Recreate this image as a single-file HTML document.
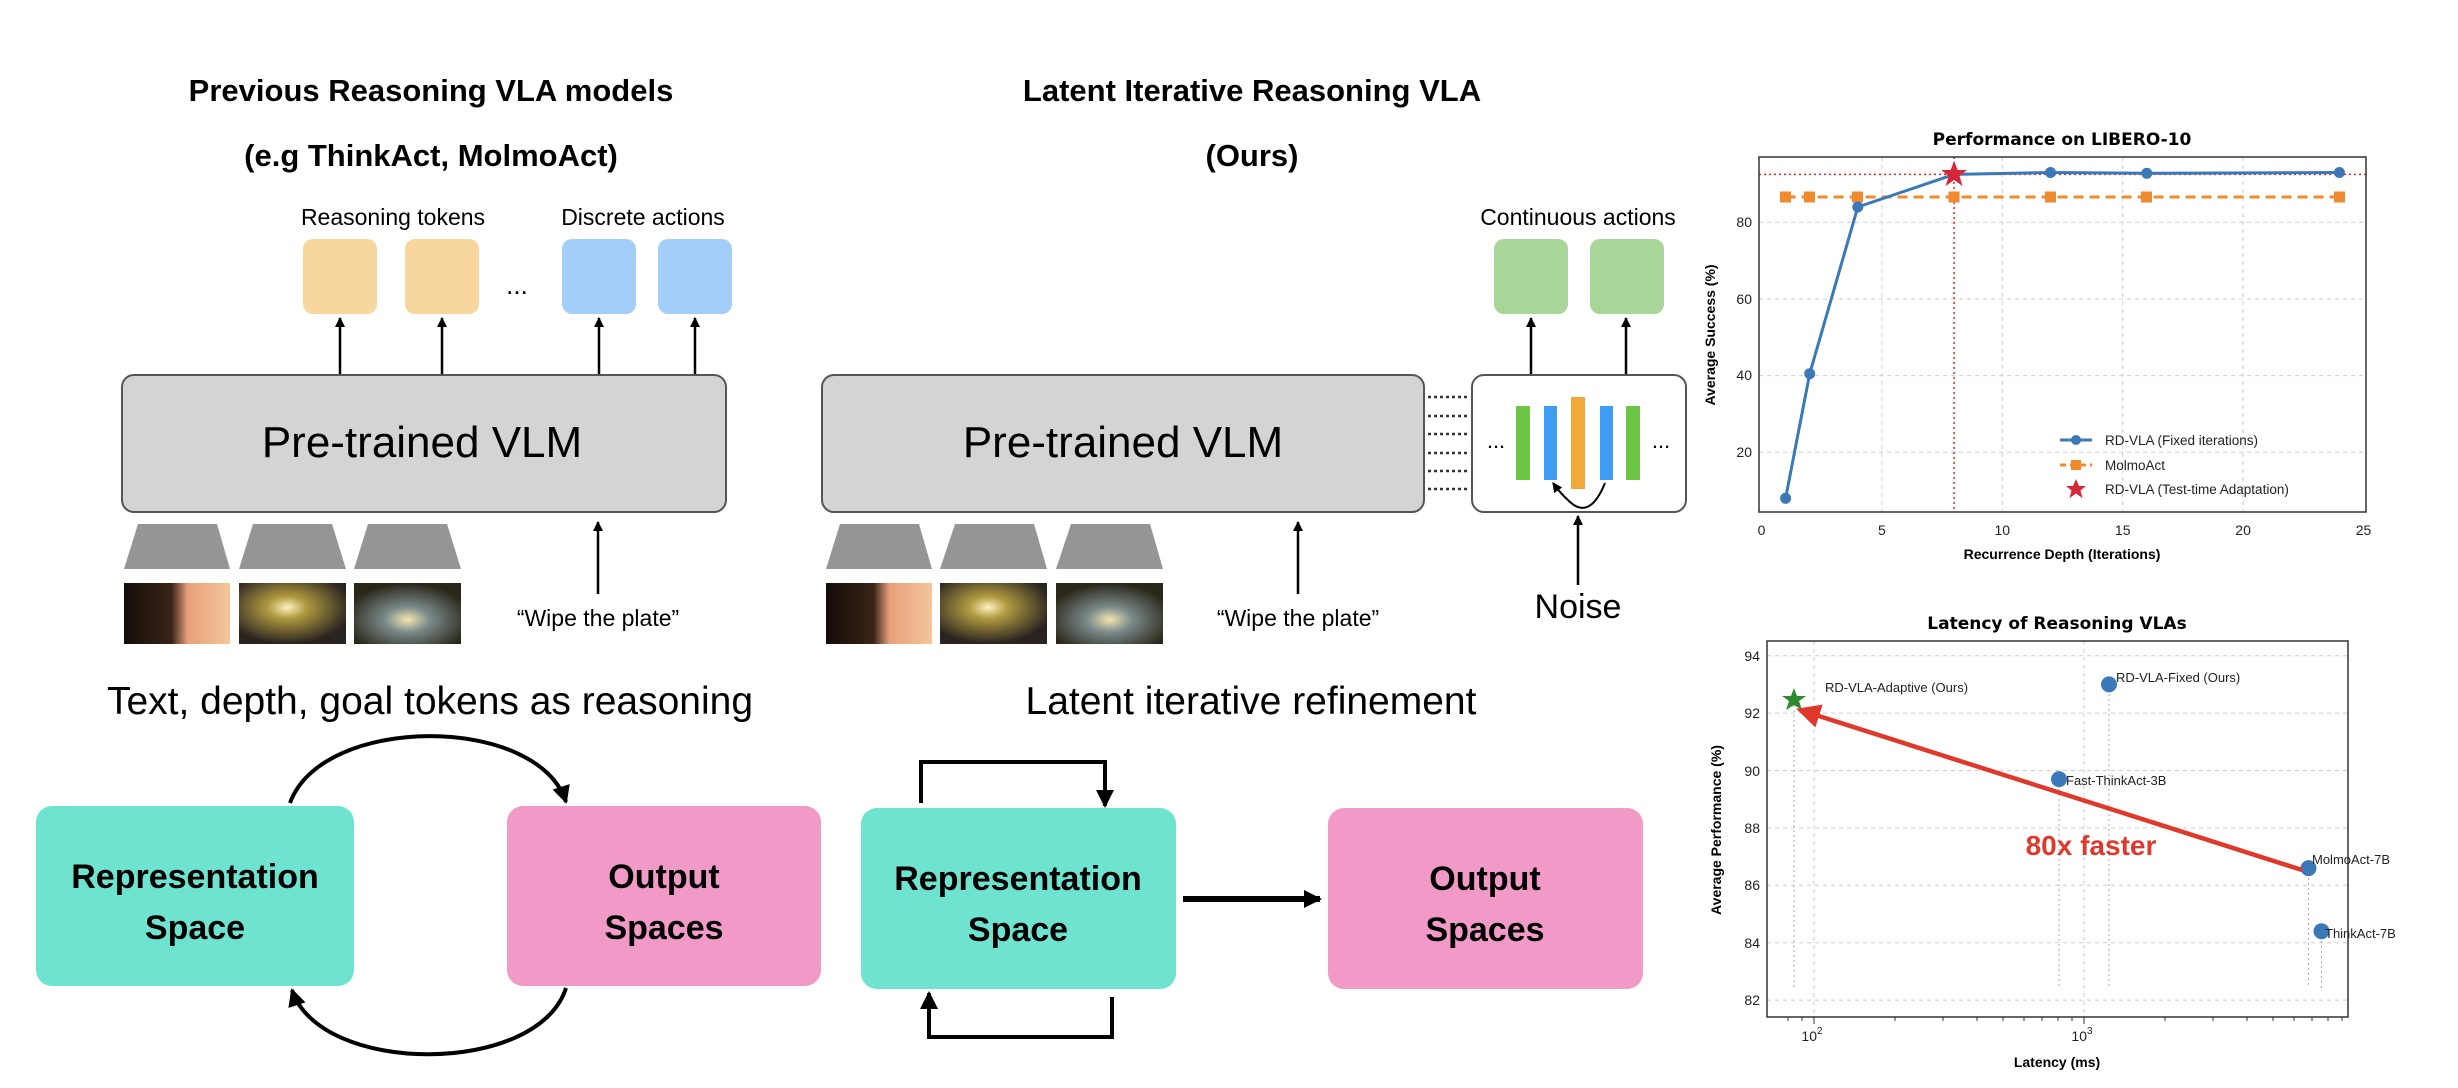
<!DOCTYPE html>
<html><head><meta charset="utf-8"><style>
html,body{margin:0;padding:0;background:#fff;}
svg{display:block;}
text{font-family:"Liberation Sans",Arial,sans-serif;}
.dj{font-family:"DejaVu Sans","Liberation Sans",sans-serif;}
</style></head><body>
<svg width="2458" height="1088" viewBox="0 0 2458 1088" xmlns="http://www.w3.org/2000/svg">
<defs>
<marker id="ah" markerWidth="10" markerHeight="10" refX="9" refY="5" orient="auto" markerUnits="userSpaceOnUse"><path d="M0,0 L10,5 L0,10 z" fill="#000"/></marker>
<marker id="ah2" markerWidth="18" markerHeight="18" refX="16" refY="9" orient="auto" markerUnits="userSpaceOnUse"><path d="M0,0 L18,9 L0,18 z" fill="#000"/></marker>
<marker id="ahr" markerWidth="24" markerHeight="24" refX="20" refY="12" orient="auto" markerUnits="userSpaceOnUse"><path d="M0,0 L24,12 L0,24 z" fill="#e0392b"/></marker>
<linearGradient id="p1" x1="0" y1="0" x2="1" y2="0"><stop offset="0" stop-color="#140c08"/><stop offset="0.45" stop-color="#3a2418"/><stop offset="0.6" stop-color="#e8a07a"/><stop offset="1" stop-color="#f5c59a"/></linearGradient>
<radialGradient id="p2" cx="0.45" cy="0.4" r="0.6"><stop offset="0" stop-color="#fff2c0"/><stop offset="0.3" stop-color="#b09a40"/><stop offset="1" stop-color="#2a2420"/></radialGradient>
<radialGradient id="p3" cx="0.5" cy="0.6" r="0.6"><stop offset="0" stop-color="#f3e6b0"/><stop offset="0.35" stop-color="#7a8a8a"/><stop offset="1" stop-color="#2a2618"/></radialGradient>
</defs>

<text x="431" y="101" font-size="31" font-weight="bold" text-anchor="middle">Previous Reasoning VLA models</text>
<text x="431" y="166" font-size="31" font-weight="bold" text-anchor="middle">(e.g ThinkAct, MolmoAct)</text>
<text x="1252" y="101" font-size="31" font-weight="bold" text-anchor="middle">Latent Iterative Reasoning VLA</text>
<text x="1252" y="166" font-size="31" font-weight="bold" text-anchor="middle">(Ours)</text>

<text x="393" y="225" font-size="23" text-anchor="middle">Reasoning tokens</text>
<text x="643" y="225" font-size="23" text-anchor="middle">Discrete actions</text>
<text x="1578" y="225" font-size="23" text-anchor="middle">Continuous actions</text>

<rect x="303" y="239" width="74" height="75" rx="10" fill="#f7d79e"/>
<rect x="405" y="239" width="74" height="75" rx="10" fill="#f7d79e"/>
<text x="517" y="294" font-size="26" text-anchor="middle">...</text>
<rect x="562" y="239" width="74" height="75" rx="10" fill="#a3cefa"/>
<rect x="658" y="239" width="74" height="75" rx="10" fill="#a3cefa"/>
<rect x="1494" y="239" width="74" height="75" rx="10" fill="#a8d598"/>
<rect x="1590" y="239" width="74" height="75" rx="10" fill="#a8d598"/>

<g stroke="#000" stroke-width="2.5" fill="none" marker-end="url(#ah)">
<line x1="340" y1="375" x2="340" y2="318"/>
<line x1="442" y1="375" x2="442" y2="318"/>
<line x1="599" y1="375" x2="599" y2="318"/>
<line x1="695" y1="375" x2="695" y2="318"/>
<line x1="1531" y1="375" x2="1531" y2="318"/>
<line x1="1626" y1="375" x2="1626" y2="318"/>
<line x1="598" y1="594" x2="598" y2="522"/>
<line x1="1298" y1="594" x2="1298" y2="522"/>
<line x1="1578" y1="585" x2="1578" y2="516"/>
</g>

<rect x="122" y="375" width="604" height="137" rx="12" fill="#d4d4d4" stroke="#555" stroke-width="2"/>
<text x="422" y="457" font-size="44" text-anchor="middle">Pre-trained VLM</text>
<rect x="822" y="375" width="602" height="137" rx="12" fill="#d4d4d4" stroke="#555" stroke-width="2"/>
<text x="1123" y="457" font-size="44" text-anchor="middle">Pre-trained VLM</text>

<g stroke="#333" stroke-width="2.5" stroke-dasharray="3,3">
<line x1="1428" y1="397" x2="1468" y2="397"/>
<line x1="1428" y1="416" x2="1468" y2="416"/>
<line x1="1428" y1="434" x2="1468" y2="434"/>
<line x1="1428" y1="453" x2="1468" y2="453"/>
<line x1="1428" y1="471" x2="1468" y2="471"/>
<line x1="1428" y1="489" x2="1468" y2="489"/>
</g>
<rect x="1472" y="375" width="214" height="137" rx="12" fill="#fff" stroke="#555" stroke-width="2"/>
<rect x="1516" y="406" width="14" height="74" fill="#6cc644"/>
<rect x="1544" y="406" width="13" height="74" fill="#3f9cf4"/>
<rect x="1571" y="397" width="14" height="92" fill="#f3a93a"/>
<rect x="1600" y="406" width="13" height="74" fill="#3f9cf4"/>
<rect x="1626" y="406" width="14" height="74" fill="#6cc644"/>
<text x="1496" y="448" font-size="22" text-anchor="middle">...</text>
<text x="1661" y="448" font-size="22" text-anchor="middle">...</text>
<path d="M1605,483 Q1590,520 1570,502 Q1560,493 1553,483" fill="none" stroke="#000" stroke-width="2" marker-end="url(#ah)"/>

<g fill="#959595">
<polygon points="138,524 217,524 230,569 124,569"/>
<polygon points="253,524 332,524 346,569 239,569"/>
<polygon points="368,524 447,524 461,569 354,569"/>
<polygon points="840,524 919,524 932,569 826,569"/>
<polygon points="955,524 1034,524 1047,569 940,569"/>
<polygon points="1071,524 1150,524 1163,569 1056,569"/>
</g>
<rect x="124" y="583" width="106" height="61" fill="url(#p1)"/>
<rect x="239" y="583" width="107" height="61" fill="url(#p2)"/>
<rect x="354" y="583" width="107" height="61" fill="url(#p3)"/>
<rect x="826" y="583" width="106" height="61" fill="url(#p1)"/>
<rect x="940" y="583" width="107" height="61" fill="url(#p2)"/>
<rect x="1056" y="583" width="107" height="61" fill="url(#p3)"/>

<text x="598" y="626" font-size="23" text-anchor="middle">“Wipe the plate”</text>
<text x="1298" y="626" font-size="23" text-anchor="middle">“Wipe the plate”</text>
<text x="1578" y="618" font-size="34" text-anchor="middle">Noise</text>

<text x="430" y="714" font-size="39" text-anchor="middle">Text, depth, goal tokens as reasoning</text>
<text x="1251" y="714" font-size="39" text-anchor="middle">Latent iterative refinement</text>

<rect x="36" y="806" width="318" height="180" rx="16" fill="#6de3d0"/>
<rect x="507" y="806" width="314" height="180" rx="16" fill="#f29ac7"/>
<rect x="861" y="808" width="315" height="181" rx="16" fill="#6de3d0"/>
<rect x="1328" y="808" width="315" height="181" rx="16" fill="#f29ac7"/>
<g font-size="34" font-weight="bold" text-anchor="middle">
<text x="195" y="888">Representation</text><text x="195" y="939">Space</text>
<text x="664" y="888">Output</text><text x="664" y="939">Spaces</text>
<text x="1018" y="890">Representation</text><text x="1018" y="941">Space</text>
<text x="1485" y="890">Output</text><text x="1485" y="941">Spaces</text>
</g>

<g stroke="#000" stroke-width="4" fill="none">
<path d="M290,803 C322,714 538,714 566,802" marker-end="url(#ah2)"/>
<path d="M566,988 C538,1076 320,1076 292,990" marker-end="url(#ah2)"/>
<polyline points="921,803 921,762 1105,762 1105,806" marker-end="url(#ah2)"/>
<polyline points="1112,997 1112,1037 929,1037 929,993" marker-end="url(#ah2)"/>
<line x1="1183" y1="899" x2="1320" y2="899" stroke-width="6" marker-end="url(#ah2)"/>
</g>

<g class="dj">
<text x="2062" y="145" font-size="17" font-weight="bold" text-anchor="middle" class="dj">Performance on LIBERO-10</text>
<g stroke="#ccc" stroke-width="1" stroke-dasharray="4,4">
<line x1="1881.9" y1="157" x2="1881.9" y2="512"/><line x1="2002.3" y1="157" x2="2002.3" y2="512"/>
<line x1="2122.7" y1="157" x2="2122.7" y2="512"/><line x1="2243.1" y1="157" x2="2243.1" y2="512"/>
<line x1="1759" y1="452.3" x2="2366" y2="452.3"/><line x1="1759" y1="375.6" x2="2366" y2="375.6"/>
<line x1="1759" y1="299" x2="2366" y2="299"/><line x1="1759" y1="222.3" x2="2366" y2="222.3"/>
</g>
<line x1="1759" y1="174.4" x2="2366" y2="174.4" stroke="#d62728" stroke-width="1.5" stroke-dasharray="2,3"/>
<line x1="1954.1" y1="157" x2="1954.1" y2="512" stroke="#d62728" stroke-width="1.5" stroke-dasharray="2,3"/>
<polyline points="1785.6,197 1809.7,197 1857.8,197 1954.1,197 2050.5,197 2146.8,197 2339.4,197" fill="none" stroke="#f08a2c" stroke-width="3" stroke-dasharray="10,6"/>
<g fill="#f08a2c">
<rect x="1780" y="191.5" width="11" height="11"/><rect x="1804" y="191.5" width="11" height="11"/><rect x="1852" y="191.5" width="11" height="11"/><rect x="1948.5" y="191.5" width="11" height="11"/><rect x="2045" y="191.5" width="11" height="11"/><rect x="2141" y="191.5" width="11" height="11"/><rect x="2334" y="191.5" width="11" height="11"/>
</g>
<polyline points="1785.6,498.3 1809.7,373.7 1857.8,207 1954.1,174.4 2050.5,172.5 2146.8,173.3 2339.4,172.5" fill="none" stroke="#3a78b8" stroke-width="3"/>
<g fill="#3a78b8">
<circle cx="1785.6" cy="498.3" r="5.5"/><circle cx="1809.7" cy="373.7" r="5.5"/><circle cx="1857.8" cy="207" r="5.5"/><circle cx="2050.5" cy="172.5" r="5.5"/><circle cx="2146.8" cy="173.3" r="5.5"/><circle cx="2339.4" cy="172.5" r="5.5"/>
</g>
<polygon points="1954.1,161 1957.6,170 1967,170 1959.5,176 1962.5,186 1954.1,180 1945.7,186 1948.7,176 1941.2,170 1950.6,170" fill="#d62738"/>
<rect x="1759" y="157" width="607" height="355" fill="none" stroke="#333" stroke-width="1.5"/>
<g font-size="14" text-anchor="middle" fill="#222">
<text x="1761.5" y="535">0</text><text x="1881.9" y="535">5</text><text x="2002.3" y="535">10</text><text x="2122.7" y="535">15</text><text x="2243.1" y="535">20</text><text x="2363.5" y="535">25</text>
</g>
<g font-size="14" text-anchor="end" fill="#222">
<text x="1752" y="457">20</text><text x="1752" y="380">40</text><text x="1752" y="304">60</text><text x="1752" y="227">80</text>
</g>
<text x="2062" y="559" font-size="14" font-weight="bold" text-anchor="middle">Recurrence Depth (Iterations)</text>
<text transform="translate(1715,335) rotate(-90)" font-size="14" font-weight="bold" text-anchor="middle">Average Success (%)</text>
<line x1="2060" y1="440" x2="2092" y2="440" stroke="#3a78b8" stroke-width="3"/><circle cx="2076" cy="440" r="5" fill="#3a78b8"/>
<line x1="2060" y1="465" x2="2092" y2="465" stroke="#f08a2c" stroke-width="3" stroke-dasharray="6,4"/><rect x="2071" y="460" width="10" height="10" fill="#f08a2c"/>
<polygon points="2076,479 2079,486 2086,486 2080.5,490.5 2082.5,498 2076,493.5 2069.5,498 2071.5,490.5 2066,486 2073,486" fill="#d62738"/>
<g font-size="13.5" fill="#222">
<text x="2105" y="445">RD-VLA (Fixed iterations)</text>
<text x="2105" y="470">MolmoAct</text>
<text x="2105" y="494">RD-VLA (Test-time Adaptation)</text>
</g>
</g>

<g class="dj">
<text x="2057" y="629" font-size="17" font-weight="bold" text-anchor="middle" class="dj">Latency of Reasoning VLAs</text>
<g stroke="#ccc" stroke-width="1" stroke-dasharray="4,4">
<line x1="1814" y1="641" x2="1814" y2="1017"/><line x1="2084" y1="641" x2="2084" y2="1017"/>
<line x1="1767" y1="655.7" x2="2348" y2="655.7"/><line x1="1767" y1="713.1" x2="2348" y2="713.1"/>
<line x1="1767" y1="770.5" x2="2348" y2="770.5"/><line x1="1767" y1="827.9" x2="2348" y2="827.9"/>
<line x1="1767" y1="885.3" x2="2348" y2="885.3"/><line x1="1767" y1="942.7" x2="2348" y2="942.7"/>
<line x1="1767" y1="1000.1" x2="2348" y2="1000.1"/>
</g>
<g stroke="#aaa" stroke-width="1" stroke-dasharray="2,3">
<line x1="1794" y1="700" x2="1794" y2="988"/><line x1="2059" y1="779" x2="2059" y2="988"/><line x1="2109" y1="684" x2="2109" y2="988"/><line x1="2308.5" y1="868" x2="2308.5" y2="988"/><line x1="2321.5" y1="931" x2="2321.5" y2="988"/>
</g>
<g fill="#3a78b8">
<circle cx="2109" cy="684.4" r="8"/><circle cx="2059" cy="779.1" r="8"/><circle cx="2308.5" cy="868.1" r="8"/><circle cx="2321.5" cy="931.2" r="8"/>
</g>
<polygon points="1794,688 1797,696 1806,696 1799,701 1802,710 1794,705 1786,710 1789,701 1782,696 1791,696" fill="#2e8b2e"/>
<line x1="2302" y1="870" x2="1800" y2="710" stroke="#e0392b" stroke-width="4.5" marker-end="url(#ahr)"/>
<rect x="1767" y="641" width="581" height="376" fill="none" stroke="#333" stroke-width="1.5"/>
<g stroke="#333" stroke-width="1">
<line x1="1788" y1="1017" x2="1788" y2="1021"/><line x1="1802" y1="1017" x2="1802" y2="1021"/>
<line x1="1895" y1="1017" x2="1895" y2="1021"/><line x1="1943" y1="1017" x2="1943" y2="1021"/><line x1="1977" y1="1017" x2="1977" y2="1021"/><line x1="2003" y1="1017" x2="2003" y2="1021"/><line x1="2024" y1="1017" x2="2024" y2="1021"/><line x1="2042" y1="1017" x2="2042" y2="1021"/><line x1="2058" y1="1017" x2="2058" y2="1021"/><line x1="2072" y1="1017" x2="2072" y2="1021"/>
<line x1="2165" y1="1017" x2="2165" y2="1021"/><line x1="2213" y1="1017" x2="2213" y2="1021"/><line x1="2247" y1="1017" x2="2247" y2="1021"/><line x1="2273" y1="1017" x2="2273" y2="1021"/><line x1="2294" y1="1017" x2="2294" y2="1021"/><line x1="2312" y1="1017" x2="2312" y2="1021"/><line x1="2328" y1="1017" x2="2328" y2="1021"/><line x1="2342" y1="1017" x2="2342" y2="1021"/>
<line x1="1814" y1="1017" x2="1814" y2="1024"/><line x1="2084" y1="1017" x2="2084" y2="1024"/>
</g>
<g font-size="14" text-anchor="middle" fill="#222">
<text x="1812" y="1041">10<tspan font-size="10" dy="-7">2</tspan></text>
<text x="2082" y="1041">10<tspan font-size="10" dy="-7">3</tspan></text>
</g>
<g font-size="14" text-anchor="end" fill="#222">
<text x="1760" y="661">94</text><text x="1760" y="718">92</text><text x="1760" y="776">90</text><text x="1760" y="833">88</text><text x="1760" y="890">86</text><text x="1760" y="948">84</text><text x="1760" y="1005">82</text>
</g>
<text x="2057" y="1067" font-size="14" font-weight="bold" text-anchor="middle">Latency (ms)</text>
<text transform="translate(1721,830) rotate(-90)" font-size="14" font-weight="bold" text-anchor="middle">Average Performance (%)</text>
<g font-size="13" fill="#222">
<text x="1825" y="692">RD-VLA-Adaptive (Ours)</text>
<text x="2116" y="682">RD-VLA-Fixed (Ours)</text>
<text x="2066" y="785">Fast-ThinkAct-3B</text>
<text x="2312" y="864">MolmoAct-7B</text>
<text x="2325" y="938">ThinkAct-7B</text>
</g>
</g>
<text x="2091" y="855" font-size="28" font-weight="bold" fill="#e0392b" text-anchor="middle">80x faster</text>
</svg>
</body></html>
